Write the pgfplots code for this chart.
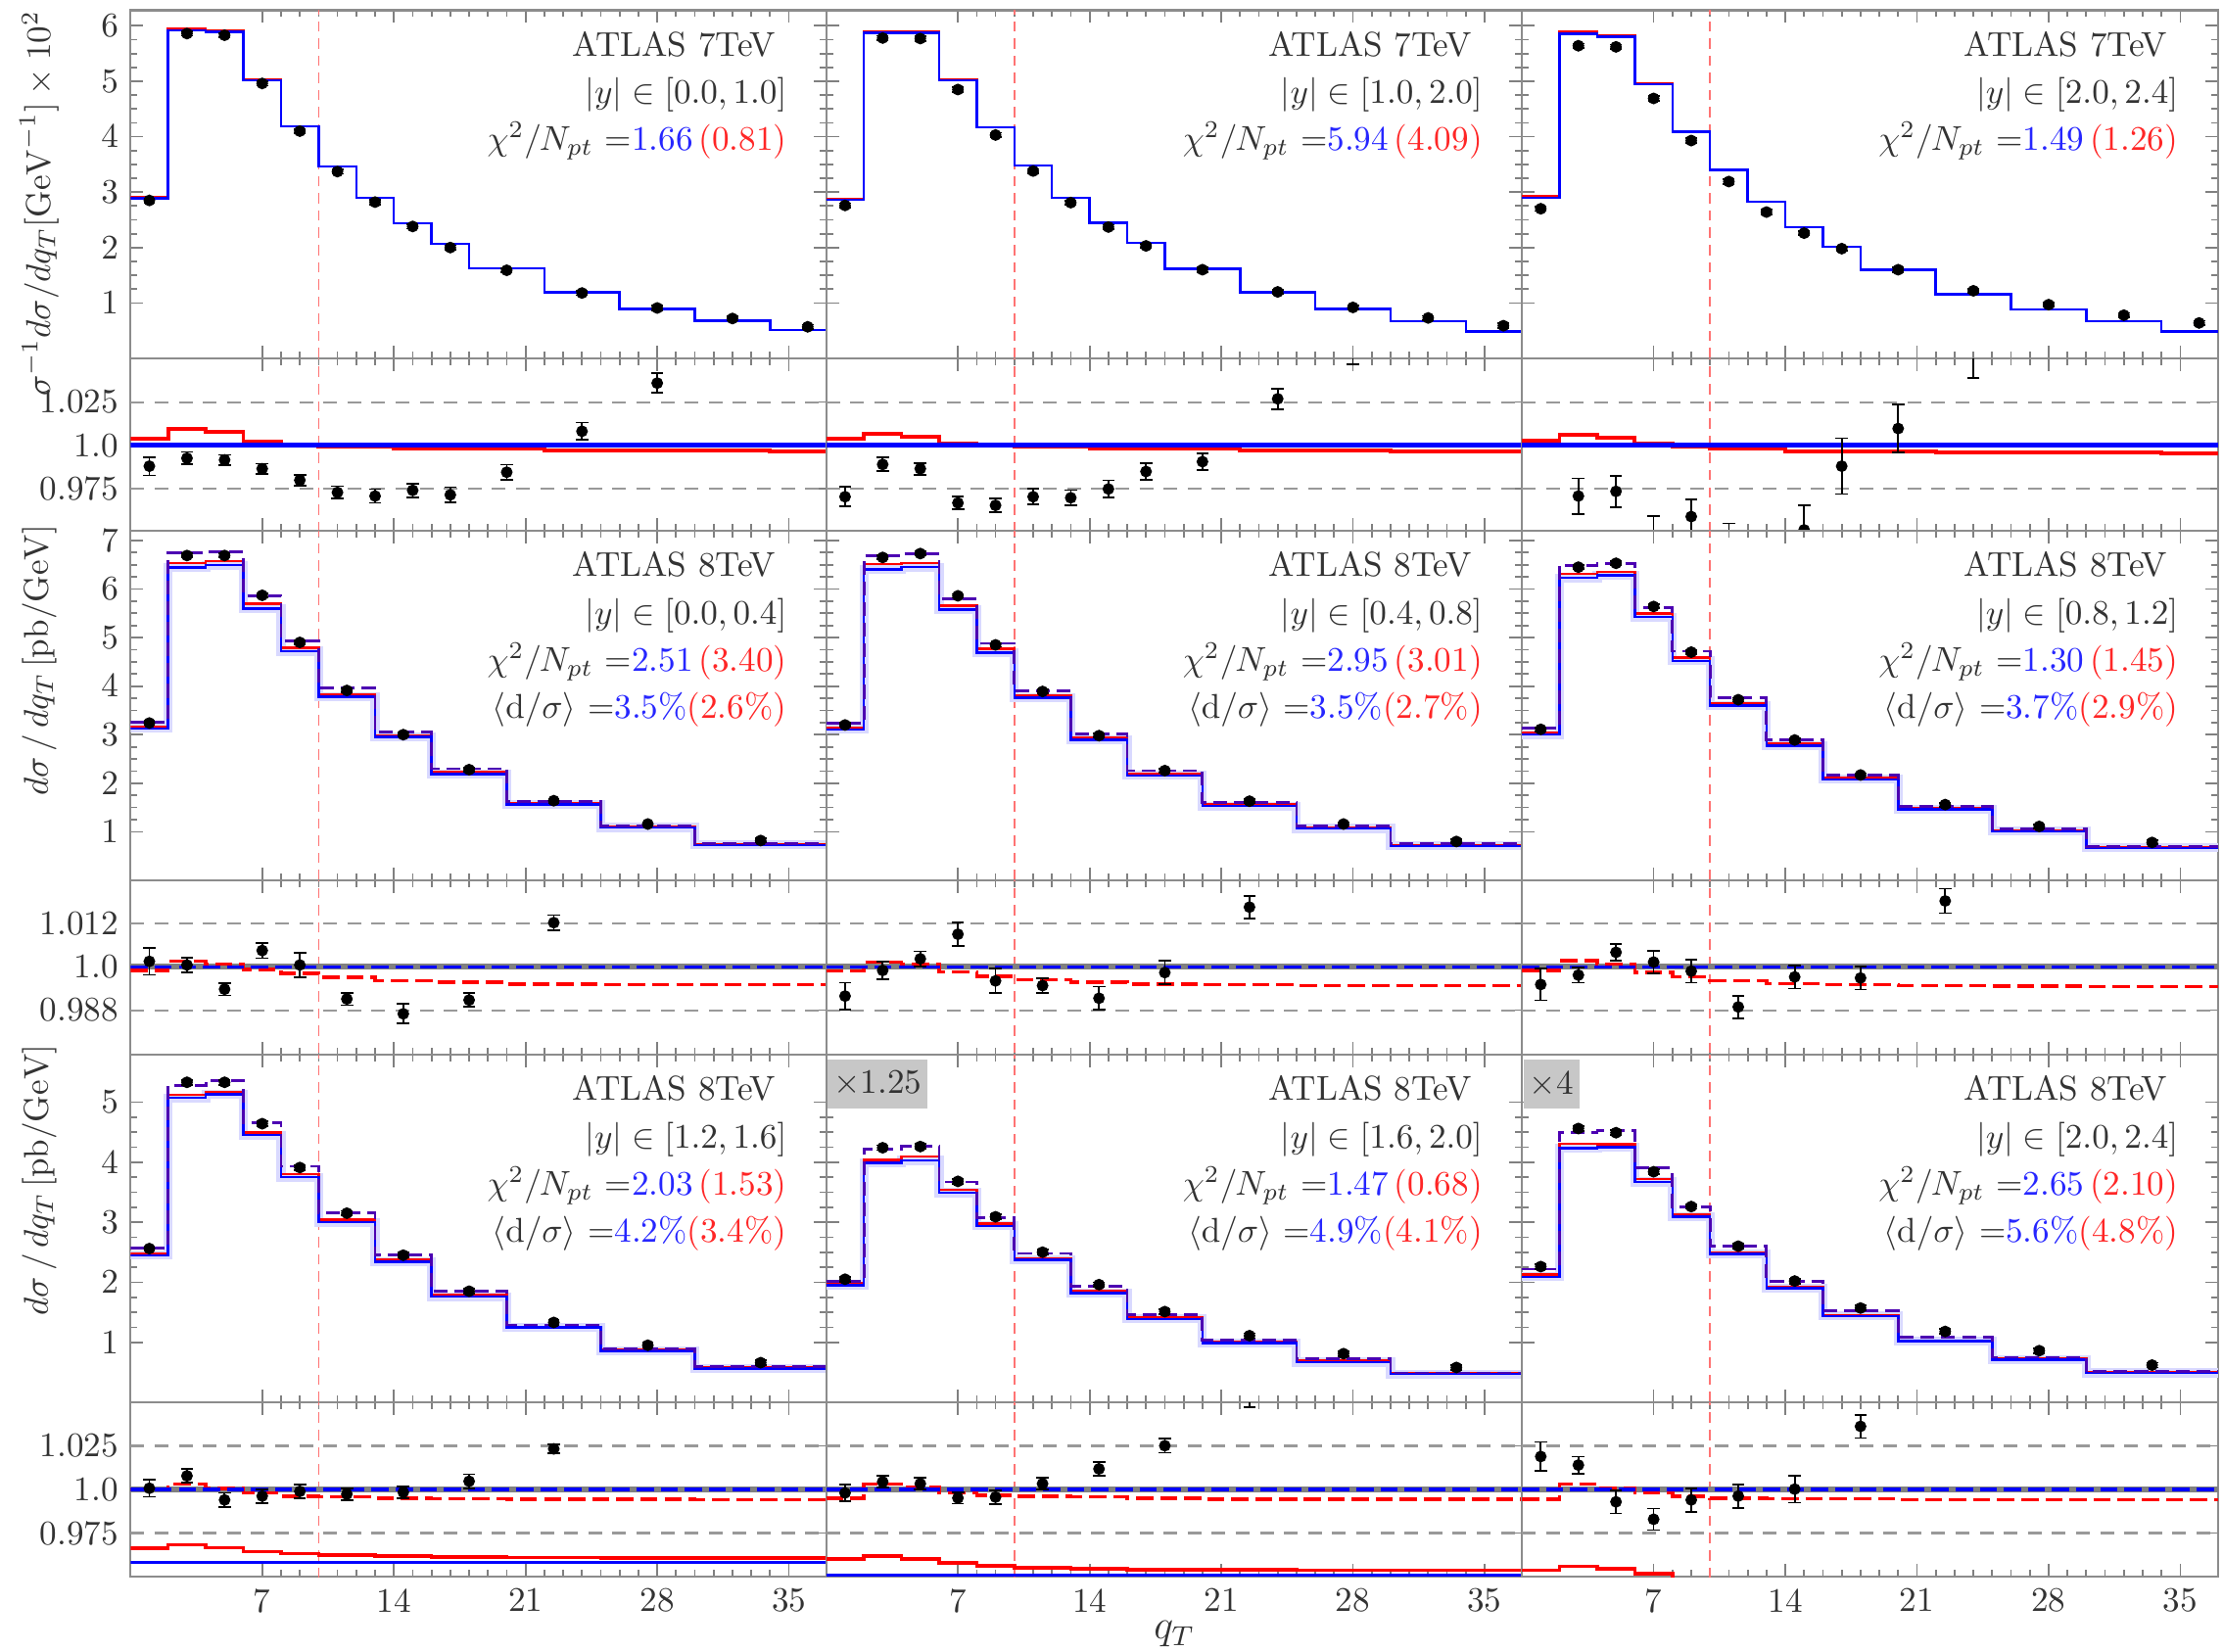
\documentclass[border=0pt]{standalone}
\usepackage{pgfplots}
\usepackage{pgfplotstable}
\pgfplotsset{compat=1.18}

% ---- 7 TeV histograms: bin edge, blue, red, red ratio
\pgfplotstableread{
q  b    r    rr
0  2.89 2.91 1.0040
2  5.92 5.95 1.0097
4  5.89 5.91 1.0080
6  5.02 5.03 1.0020
8  4.19 4.19 1.0000
10 3.46 3.46 0.9990
12 2.90 2.90 0.9990
14 2.44 2.44 0.9980
16 2.07 2.07 0.9980
18 1.63 1.63 0.9980
22 1.19 1.19 0.9970
26 0.89 0.89 0.9970
30 0.68 0.68 0.9970
34 0.51 0.51 0.9965
38 0.51 0.51 0.9965
}\hA
\pgfplotstableread{
q  b    r    rr
0  2.86 2.88 1.0036
2  5.87 5.90 1.0067
4  5.87 5.89 1.0047
6  5.02 5.03 1.0010
8  4.17 4.17 1.0000
10 3.48 3.48 0.9990
12 2.90 2.90 0.9990
14 2.45 2.45 0.9980
16 2.08 2.08 0.9980
18 1.62 1.62 0.9980
22 1.19 1.19 0.9970
26 0.89 0.89 0.9970
30 0.67 0.67 0.9966
34 0.49 0.49 0.9966
38 0.49 0.49 0.9966
}\hB
\pgfplotstableread{
q  b    r    rr
0  2.90 2.92 1.0026
2  5.86 5.89 1.0060
4  5.80 5.83 1.0043
6  4.95 4.96 1.0012
8  4.09 4.09 0.9992
10 3.40 3.40 0.9980
12 2.83 2.83 0.9980
14 2.37 2.37 0.9966
16 2.01 2.01 0.9966
18 1.60 1.60 0.9966
22 1.16 1.16 0.9960
26 0.88 0.88 0.9960
30 0.67 0.67 0.9960
34 0.49 0.49 0.9951
38 0.49 0.49 0.9951
}\hC
% ---- 7 TeV data: x, value, ratio, ratio error
\pgfplotstableread{
x  y    r      e
1  2.85 0.9879 0.0053
3  5.86 0.9925 0.0036
5  5.83 0.9915 0.0030
7  4.96 0.9864 0.0030
9  4.10 0.9798 0.0030
11 3.37 0.9727 0.0036
13 2.82 0.9706 0.0040
15 2.38 0.9739 0.0040
17 2.00 0.9713 0.0044
20 1.59 0.9844 0.0044
24 1.18 1.0081 0.0050
28 0.91 1.0360 0.0056
32 0.72 nan    0
36 0.57 nan    0
}\dA
\pgfplotstableread{
x  y    r      e
1  2.76 0.9702 0.0057
3  5.78 0.9889 0.0040
5  5.77 0.9864 0.0034
7  4.85 0.9666 0.0036
9  4.03 0.9652 0.0040
11 3.38 0.9702 0.0045
13 2.81 0.9696 0.0045
15 2.37 0.9747 0.0050
17 2.03 0.9848 0.0050
20 1.60 0.9905 0.0050
24 1.20 1.0269 0.0060
28 0.92 1.0620 0.0150
32 0.73 nan    0
36 0.59 nan    0
}\dB
\pgfplotstableread{
x  y    r      e
1  2.70 nan    0
3  5.64 0.9706 0.0103
5  5.62 0.9733 0.0091
7  4.69 0.9430 0.0160
9  3.93 0.9587 0.0101
11 3.19 0.9400 0.0147
13 2.64 nan    0
15 2.26 0.9510 0.0142
17 1.98 0.9879 0.0162
20 1.60 1.0097 0.0138
24 1.22 1.0600 0.0210
28 0.97 nan    0
32 0.78 nan    0
36 0.64 nan    0
}\dC
% ---- 8 TeV histograms: edge, blue, red, dashed, red dashed ratio, red solid ratio, blue solid ratio
\pgfplotstableread{
q  b    r    d    rd     rs     bs
0  3.13 3.17 3.26 0.9990 0.97 0.97
2  6.44 6.54 6.74 1.0015 0.97 0.97
4  6.49 6.58 6.76 1.0008 0.97 0.97
6  5.60 5.70 5.86 0.9993 0.97 0.97
8  4.72 4.79 4.93 0.9982 0.97 0.97
10 3.78 3.83 3.96 0.9971 0.97 0.97
13 2.95 2.98 3.05 0.9961 0.97 0.97
16 2.19 2.23 2.30 0.9957 0.97 0.97
20 1.56 1.58 1.63 0.9952 0.97 0.97
25 1.09 1.10 1.12 0.9950 0.97 0.97
30 0.73 0.74 0.76 0.9950 0.97 0.97
37 0.73 0.74 0.76 0.9950 0.97 0.97
}\hD
\pgfplotstableread{
q  b    r    d    rd     rs     bs
0  3.11 3.15 3.24 0.9988 0.97 0.97
2  6.40 6.51 6.69 1.0013 0.97 0.97
4  6.45 6.54 6.73 1.0008 0.97 0.97
6  5.58 5.66 5.80 0.9986 0.97 0.97
8  4.69 4.77 4.88 0.9974 0.97 0.97
10 3.76 3.80 3.91 0.9964 0.97 0.97
13 2.89 2.93 3.02 0.9957 0.97 0.97
16 2.16 2.19 2.26 0.9952 0.97 0.97
20 1.53 1.56 1.61 0.9950 0.97 0.97
25 1.07 1.09 1.12 0.9948 0.97 0.97
30 0.71 0.73 0.76 0.9948 0.97 0.97
37 0.71 0.73 0.76 0.9948 0.97 0.97
}\hE
\pgfplotstableread{
q  b    r    d    rd     rs     bs
0  3.00 3.04 3.13 0.9990 0.97 0.97
2  6.23 6.31 6.49 1.0017 0.97 0.97
4  6.28 6.35 6.53 1.0008 0.97 0.97
6  5.42 5.50 5.62 0.9984 0.97 0.97
8  4.52 4.59 4.72 0.9972 0.97 0.97
10 3.60 3.65 3.76 0.9962 0.97 0.97
13 2.77 2.81 2.89 0.9954 0.97 0.97
16 2.08 2.11 2.17 0.9950 0.97 0.97
20 1.46 1.48 1.52 0.9948 0.97 0.97
25 1.01 1.03 1.06 0.9947 0.97 0.97
30 0.67 0.68 0.70 0.9945 0.97 0.97
37 0.67 0.68 0.70 0.9945 0.97 0.97
}\hF
\pgfplotstableread{
q  b    r    d    rd     rs     bs
0  2.45 2.47 2.57 1.0000 0.9662 0.958
2  5.07 5.12 5.28 1.0030 0.9684 0.958
4  5.13 5.17 5.36 1.0007 0.9667 0.958
6  4.45 4.49 4.66 0.9980 0.9644 0.958
8  3.75 3.80 3.93 0.9962 0.9633 0.958
10 3.00 3.04 3.15 0.9958 0.9624 0.958
13 2.34 2.37 2.46 0.9951 0.9618 0.958
16 1.76 1.79 1.85 0.9947 0.9613 0.958
20 1.25 1.26 1.29 0.9944 0.9611 0.958
25 0.86 0.87 0.89 0.9944 0.9607 0.958
30 0.56 0.58 0.60 0.9940 0.9607 0.958
37 0.56 0.58 0.60 0.9940 0.9607 0.958
}\hG
\pgfplotstableread{
q  b    r    d    rd     rs     bs
0  1.95 1.98 2.01 0.9951 0.9600 0.9507
2  3.99 4.04 4.22 1.0030 0.9618 0.9507
4  4.03 4.09 4.26 1.0010 0.9602 0.9507
6  3.49 3.54 3.67 0.9980 0.9580 0.9507
8  2.94 2.98 3.08 0.9967 0.9562 0.9507
10 2.37 2.40 2.48 0.9962 0.9551 0.9507
13 1.82 1.85 1.93 0.9958 0.9544 0.9507
16 1.39 1.42 1.46 0.9951 0.9540 0.9507
20 0.99 1.01 1.04 0.9944 0.9540 0.9507
25 0.67 0.69 0.73 0.9944 0.9536 0.9507
30 0.47 0.48 0.49 0.9944 0.9536 0.9507
37 0.47 0.48 0.49 0.9944 0.9536 0.9507
}\hH
\pgfplotstableread{
q  b    r    d    rd     rs     bs
0  2.09 2.13 2.22 0.9944 0.9536 0.94
2  4.23 4.31 4.50 1.0030 0.9558 0.94
4  4.25 4.30 4.52 1.0007 0.9544 0.94
6  3.67 3.72 3.90 0.9980 0.9518 0.94
8  3.09 3.13 3.26 0.9962 0.9480 0.94
10 2.47 2.50 2.60 0.9951 0.9470 0.94
13 1.90 1.92 2.01 0.9947 0.9460 0.94
16 1.44 1.45 1.52 0.9947 0.9460 0.94
20 1.02 1.03 1.08 0.9940 0.9450 0.94
25 0.71 0.73 0.75 0.9940 0.9450 0.94
30 0.49 0.50 0.51 0.9940 0.9450 0.94
37 0.49 0.50 0.51 0.9940 0.9450 0.94
}\hI
% ---- 8 TeV data
\pgfplotstableread{
x    y    r      e
1    3.24 1.0015 0.0037
3    6.69 1.0005 0.0021
5    6.69 0.9938 0.0017
7    5.87 1.0045 0.0021
9    4.90 1.0005 0.0034
11.5 3.91 0.9911 0.0017
14.5 3.00 0.9870 0.0027
18   2.28 0.9908 0.0019
22.5 1.64 1.0122 0.0021
27.5 1.16 nan    0
33.5 0.82 nan    0
}\dD
\pgfplotstableread{
x    y    r      e
1    3.20 0.9919 0.0037
3    6.65 0.9990 0.0024
5    6.73 1.0022 0.0021
7    5.86 1.0090 0.0032
9    4.85 0.9961 0.0034
11.5 3.89 0.9948 0.0021
14.5 2.98 0.9913 0.0032
18   2.26 0.9984 0.0032
22.5 1.63 1.0165 0.0031
27.5 1.16 nan    0
33.5 0.80 nan    0
}\dE
\pgfplotstableread{
x    y    r      e
1    3.11 0.9951 0.0044
3    6.45 0.9977 0.0021
5    6.53 1.0040 0.0024
7    5.64 1.0013 0.0032
9    4.70 0.9988 0.0032
11.5 3.72 0.9889 0.0031
14.5 2.89 0.9972 0.0032
18   2.17 0.9969 0.0032
22.5 1.56 1.0182 0.0034
27.5 1.11 nan    0
33.5 0.78 nan    0
}\dF
\pgfplotstableread{
x    y    r      e
1    2.56 1.0007 0.0049
3    5.33 1.0078 0.0040
5    5.33 0.9940 0.0040
7    4.64 0.9962 0.0040
9    3.91 0.9989 0.0040
11.5 3.15 0.9973 0.0033
14.5 2.45 0.9984 0.0033
18   1.85 1.0047 0.0040
22.5 1.33 1.0233 0.0027
27.5 0.95 nan    0
33.5 0.66 nan    0
}\dG
\pgfplotstableread{
x    y    r      e
1    2.05 0.9980 0.0049
3    4.24 1.0044 0.0033
5    4.26 1.0033 0.0033
7    3.68 0.9951 0.0033
9    3.09 0.9956 0.0040
11.5 2.50 1.0033 0.0033
14.5 1.96 1.0118 0.0040
18   1.51 1.0251 0.0040
22.5 1.11 1.0580 0.0110
27.5 0.81 nan    0
33.5 0.58 nan    0
}\dH
\pgfplotstableread{
x    y    r      e
1    2.26 1.0189 0.0084
3    4.56 1.0140 0.0049
5    4.49 0.9929 0.0067
7    3.84 0.9829 0.0062
9    3.26 0.9940 0.0067
11.5 2.60 0.9962 0.0067
14.5 2.02 1.0002 0.0078
18   1.57 1.0362 0.0067
22.5 1.18 nan    0
27.5 0.86 nan    0
33.5 0.62 nan    0
}\dI

\pgfplotsset{
  base/.style={scale only axis, width=7.107cm, xmin=0, xmax=37,
    xtick={7,14,21,28,35}, minor x tick num=6, xticklabels={},
    axis line style={black!45, line width=0.6pt},
    tick style={black!50, line width=0.5pt},
    major tick length=0.13cm, minor tick length=0.07cm,
    tick label style={font=\fontsize{10}{12}\selectfont, text=black!80},
    label style={font=\fontsize{10}{12}\selectfont, text=black!80},
    clip marker paths=true, anchor=north west},
  m7/.style={base, height=3.555cm, ymin=0, ymax=6.28, ytick={1,...,6}, minor y tick num=3},
  m8a/.style={base, height=3.57cm, ymin=0, ymax=7.2, ytick={1,...,7}, minor y tick num=3},
  m8b/.style={base, height=3.55cm, ymin=0, ymax=5.79, ytick={1,...,5}, minor y tick num=3},
  r7/.style={base, height=1.76cm, ymin=0.9505, ymax=1.0503, ytick={0.975,1,1.025}, yticklabels={0.975,1.0,1.025}},
  r8a/.style={base, height=1.78cm, ymin=0.9757, ymax=1.0239, ytick={0.988,1,1.012}, yticklabels={0.988,1.0,1.012}},
  r8b/.style={base, height=1.78cm, ymin=0.95, ymax=1.05, ytick={0.975,1,1.025}, yticklabels={0.975,1.0,1.025}},
  noy/.style={yticklabels={}},
  xlab/.style={xticklabels={7,14,21,28,35}},
  ylab main/.style={ylabel style={at={(axis description cs:-0.1313,#1)}, anchor=center}},
  % plot styles
  vline/.style={red!55, line width=0.5pt, dash pattern=on 3pt off 2pt},
  gridl/.style={black!40, line width=0.6pt, dash pattern=on 4pt off 3pt},
  one/.style={black!50, line width=1.6pt},
  bsol/.style={const plot, blue, line width=0.7pt},
  rsol/.style={const plot, red, line width=0.7pt},
  bhalo/.style={const plot, blue!15, line width=2.6pt},
  dsh/.style={const plot, blue!70!red, line width=0.8pt, dash pattern=on 4pt off 2pt},
  rthick/.style={const plot, red, line width=1.1pt},
  bthick/.style={blue, line width=1.3pt},
  bdash/.style={blue, line width=1pt, dash pattern=on 5pt off 2pt},
  rdash/.style={const plot, red, line width=1pt, dash pattern=on 5pt off 2pt},
  rsolr/.style={const plot, red, line width=1pt},
  bsolr/.style={const plot, blue, line width=0.8pt},
  mdata/.style={only marks, mark=*, mark size=1.5pt, black,
    error bars/y dir=both, error bars/y fixed=0.04,
    error bars/error bar style={line width=0.5pt, black},
    error bars/error mark options={rotate=90, mark size=1.7pt, line width=0.5pt, black}},
  rdata/.style={only marks, mark=*, mark size=1.5pt, black,
    error bars/y dir=both, error bars/y explicit,
    error bars/error bar style={line width=0.5pt, black},
    error bars/error mark options={rotate=90, mark size=1.8pt, line width=0.5pt, black}},
}
\tikzset{
  anno/.style={anchor=north east, align=right, inner sep=0pt, xshift=-4mm, yshift=-2.1mm,
    font=\fontsize{10}{13.7}\selectfont, text=black!80},
  scalebox/.style={anchor=north west, fill=black!22, text=black!80, inner xsep=0.6mm,
    minimum height=5mm, yshift=-0.4mm, xshift=0.1mm, font=\fontsize{10}{12}\selectfont},
}
\colorlet{tb}{blue!85!white}
\colorlet{tr}{red!85!white}

\begin{document}
\begin{tikzpicture}
\useasboundingbox (0,0) rectangle (22.7,-16.86);

%================ row 1: ATLAS 7 TeV ================
\begin{axis}[m7, at={(1.333cm,-0.105cm)},
  ylabel={$\sigma^{-1} d\sigma/dq_T[\mathrm{GeV}^{-1}]\times 10^2$}, ylab main=0.445]
\addplot[vline] coordinates {(10,0) (10,7)};
\addplot[rsol] table[x=q,y=r]{\hA};
\addplot[bsol] table[x=q,y=b]{\hA};
\addplot[mdata] table[x=x,y=y]{\dA};
\node[anno] at (rel axis cs:1,1) {ATLAS 7TeV\hspace*{1.1mm}\\ $|y|\in[0.0,1.0]$\\ $\chi^2/N_{pt}$ =\textcolor{tb}{1.66}\,\textcolor{tr}{(0.81)}};
\end{axis}
\begin{axis}[m7, noy, at={(8.437cm,-0.105cm)}]
\addplot[vline] coordinates {(10,0) (10,7)};
\addplot[rsol] table[x=q,y=r]{\hB};
\addplot[bsol] table[x=q,y=b]{\hB};
\addplot[mdata] table[x=x,y=y]{\dB};
\node[anno] at (rel axis cs:1,1) {ATLAS 7TeV\hspace*{1.1mm}\\ $|y|\in[1.0,2.0]$\\ $\chi^2/N_{pt}$ =\textcolor{tb}{5.94}\,\textcolor{tr}{(4.09)}};
\end{axis}
\begin{axis}[m7, noy, at={(15.541cm,-0.105cm)}]
\addplot[vline] coordinates {(10,0) (10,7)};
\addplot[rsol] table[x=q,y=r]{\hC};
\addplot[bsol] table[x=q,y=b]{\hC};
\addplot[mdata] table[x=x,y=y]{\dC};
\node[anno] at (rel axis cs:1,1) {ATLAS 7TeV\hspace*{1.1mm}\\ $|y|\in[2.0,2.4]$\\ $\chi^2/N_{pt}$ =\textcolor{tb}{1.49}\,\textcolor{tr}{(1.26)}};
\end{axis}

\begin{axis}[r7, at={(1.333cm,-3.66cm)}]
\addplot[vline] coordinates {(10,0.9) (10,1.1)};
\addplot[gridl] coordinates {(0,0.975) (37,0.975)};
\addplot[gridl] coordinates {(0,1.025) (37,1.025)};
\addplot[rthick] table[x=q,y=rr]{\hA};
\addplot[bthick] coordinates {(0,1) (37,1)};
\addplot[rdata] table[x=x,y=r,y error=e]{\dA};
\end{axis}
\begin{axis}[r7, noy, at={(8.437cm,-3.66cm)}]
\addplot[vline] coordinates {(10,0.9) (10,1.1)};
\addplot[gridl] coordinates {(0,0.975) (37,0.975)};
\addplot[gridl] coordinates {(0,1.025) (37,1.025)};
\addplot[rthick] table[x=q,y=rr]{\hB};
\addplot[bthick] coordinates {(0,1) (37,1)};
\addplot[rdata] table[x=x,y=r,y error=e]{\dB};
\end{axis}
\begin{axis}[r7, noy, at={(15.541cm,-3.66cm)}]
\addplot[vline] coordinates {(10,0.9) (10,1.1)};
\addplot[gridl] coordinates {(0,0.975) (37,0.975)};
\addplot[gridl] coordinates {(0,1.025) (37,1.025)};
\addplot[rthick] table[x=q,y=rr]{\hC};
\addplot[bthick] coordinates {(0,1) (37,1)};
\addplot[rdata] table[x=x,y=r,y error=e]{\dC};
\end{axis}

%================ row 2: ATLAS 8 TeV, central ================
\begin{axis}[m8a, at={(1.333cm,-5.42cm)},
  ylabel={$d\sigma\,/\,dq_T\,[\mathrm{pb/GeV}]$}, ylab main=0.63]
\addplot[vline] coordinates {(10,0) (10,8)};
\addplot[bhalo] table[x=q,y=b]{\hD};
\addplot[rsol] table[x=q,y=r]{\hD};
\addplot[bsol] table[x=q,y=b]{\hD};
\addplot[dsh] table[x=q,y=d]{\hD};
\addplot[mdata] table[x=x,y=y]{\dD};
\node[anno] at (rel axis cs:1,1) {ATLAS 8TeV\hspace*{1.1mm}\\ $|y|\in[0.0,0.4]$\\ $\chi^2/N_{pt}$ =\textcolor{tb}{2.51}\,\textcolor{tr}{(3.40)}\\ $\langle \mathrm{d}/\sigma\rangle$ =\textcolor{tb}{3.5\%}\textcolor{tr}{(2.6\%)}};
\end{axis}
\begin{axis}[m8a, noy, at={(8.437cm,-5.42cm)}]
\addplot[vline] coordinates {(10,0) (10,8)};
\addplot[bhalo] table[x=q,y=b]{\hE};
\addplot[rsol] table[x=q,y=r]{\hE};
\addplot[bsol] table[x=q,y=b]{\hE};
\addplot[dsh] table[x=q,y=d]{\hE};
\addplot[mdata] table[x=x,y=y]{\dE};
\node[anno] at (rel axis cs:1,1) {ATLAS 8TeV\hspace*{1.1mm}\\ $|y|\in[0.4,0.8]$\\ $\chi^2/N_{pt}$ =\textcolor{tb}{2.95}\,\textcolor{tr}{(3.01)}\\ $\langle \mathrm{d}/\sigma\rangle$ =\textcolor{tb}{3.5\%}\textcolor{tr}{(2.7\%)}};
\end{axis}
\begin{axis}[m8a, noy, at={(15.541cm,-5.42cm)}]
\addplot[vline] coordinates {(10,0) (10,8)};
\addplot[bhalo] table[x=q,y=b]{\hF};
\addplot[rsol] table[x=q,y=r]{\hF};
\addplot[bsol] table[x=q,y=b]{\hF};
\addplot[dsh] table[x=q,y=d]{\hF};
\addplot[mdata] table[x=x,y=y]{\dF};
\node[anno] at (rel axis cs:1,1) {ATLAS 8TeV\hspace*{1.1mm}\\ $|y|\in[0.8,1.2]$\\ $\chi^2/N_{pt}$ =\textcolor{tb}{1.30}\,\textcolor{tr}{(1.45)}\\ $\langle \mathrm{d}/\sigma\rangle$ =\textcolor{tb}{3.7\%}\textcolor{tr}{(2.9\%)}};
\end{axis}

\begin{axis}[r8a, at={(1.333cm,-8.99cm)}]
\addplot[vline] coordinates {(10,0.9) (10,1.1)};
\addplot[gridl] coordinates {(0,0.988) (37,0.988)};
\addplot[gridl] coordinates {(0,1.012) (37,1.012)};
\addplot[one] coordinates {(0,1) (37,1)};
\addplot[rdash] table[x=q,y=rd]{\hD};
\addplot[bdash] coordinates {(0,1) (37,1)};
\addplot[rdata] table[x=x,y=r,y error=e]{\dD};
\end{axis}
\begin{axis}[r8a, noy, at={(8.437cm,-8.99cm)}]
\addplot[vline] coordinates {(10,0.9) (10,1.1)};
\addplot[gridl] coordinates {(0,0.988) (37,0.988)};
\addplot[gridl] coordinates {(0,1.012) (37,1.012)};
\addplot[one] coordinates {(0,1) (37,1)};
\addplot[rdash] table[x=q,y=rd]{\hE};
\addplot[bdash] coordinates {(0,1) (37,1)};
\addplot[rdata] table[x=x,y=r,y error=e]{\dE};
\end{axis}
\begin{axis}[r8a, noy, at={(15.541cm,-8.99cm)}]
\addplot[vline] coordinates {(10,0.9) (10,1.1)};
\addplot[gridl] coordinates {(0,0.988) (37,0.988)};
\addplot[gridl] coordinates {(0,1.012) (37,1.012)};
\addplot[one] coordinates {(0,1) (37,1)};
\addplot[rdash] table[x=q,y=rd]{\hF};
\addplot[bdash] coordinates {(0,1) (37,1)};
\addplot[rdata] table[x=x,y=r,y error=e]{\dF};
\end{axis}

%================ row 3: ATLAS 8 TeV, forward ================
\begin{axis}[m8b, at={(1.333cm,-10.77cm)},
  ylabel={$d\sigma\,/\,dq_T\,[\mathrm{pb/GeV}]$}, ylab main=0.64]
\addplot[vline] coordinates {(10,0) (10,8)};
\addplot[bhalo] table[x=q,y=b]{\hG};
\addplot[rsol] table[x=q,y=r]{\hG};
\addplot[bsol] table[x=q,y=b]{\hG};
\addplot[dsh] table[x=q,y=d]{\hG};
\addplot[mdata] table[x=x,y=y]{\dG};
\node[anno] at (rel axis cs:1,1) {ATLAS 8TeV\hspace*{1.1mm}\\ $|y|\in[1.2,1.6]$\\ $\chi^2/N_{pt}$ =\textcolor{tb}{2.03}\,\textcolor{tr}{(1.53)}\\ $\langle \mathrm{d}/\sigma\rangle$ =\textcolor{tb}{4.2\%}\textcolor{tr}{(3.4\%)}};
\end{axis}
\begin{axis}[m8b, noy, at={(8.437cm,-10.77cm)}]
\addplot[vline] coordinates {(10,0) (10,8)};
\addplot[bhalo] table[x=q,y=b]{\hH};
\addplot[rsol] table[x=q,y=r]{\hH};
\addplot[bsol] table[x=q,y=b]{\hH};
\addplot[dsh] table[x=q,y=d]{\hH};
\addplot[mdata] table[x=x,y=y]{\dH};
\node[anno] at (rel axis cs:1,1) {ATLAS 8TeV\hspace*{1.1mm}\\ $|y|\in[1.6,2.0]$\\ $\chi^2/N_{pt}$ =\textcolor{tb}{1.47}\,\textcolor{tr}{(0.68)}\\ $\langle \mathrm{d}/\sigma\rangle$ =\textcolor{tb}{4.9\%}\textcolor{tr}{(4.1\%)}};
\node[scalebox] at (rel axis cs:0,1) {$\times$1.25};
\end{axis}
\begin{axis}[m8b, noy, at={(15.541cm,-10.77cm)}]
\addplot[vline] coordinates {(10,0) (10,8)};
\addplot[bhalo] table[x=q,y=b]{\hI};
\addplot[rsol] table[x=q,y=r]{\hI};
\addplot[bsol] table[x=q,y=b]{\hI};
\addplot[dsh] table[x=q,y=d]{\hI};
\addplot[mdata] table[x=x,y=y]{\dI};
\node[anno] at (rel axis cs:1,1) {ATLAS 8TeV\hspace*{1.1mm}\\ $|y|\in[2.0,2.4]$\\ $\chi^2/N_{pt}$ =\textcolor{tb}{2.65}\,\textcolor{tr}{(2.10)}\\ $\langle \mathrm{d}/\sigma\rangle$ =\textcolor{tb}{5.6\%}\textcolor{tr}{(4.8\%)}};
\node[scalebox] at (rel axis cs:0,1) {$\times$4};
\end{axis}

\begin{axis}[r8b, xlab, at={(1.333cm,-14.32cm)}]
\addplot[vline] coordinates {(10,0.9) (10,1.1)};
\addplot[gridl] coordinates {(0,0.975) (37,0.975)};
\addplot[gridl] coordinates {(0,1.025) (37,1.025)};
\addplot[one] coordinates {(0,1) (37,1)};
\addplot[rsolr] table[x=q,y=rs]{\hG};
\addplot[bsolr] table[x=q,y=bs]{\hG};
\addplot[rdash] table[x=q,y=rd]{\hG};
\addplot[bdash] coordinates {(0,1) (37,1)};
\addplot[rdata] table[x=x,y=r,y error=e]{\dG};
\end{axis}
\begin{axis}[r8b, noy, xlab, at={(8.437cm,-14.32cm)},
  xlabel={$q_T$}, xlabel style={at={(axis description cs:0.5,-0.33)}, anchor=center, font=\fontsize{11.5}{13}\selectfont}]
\addplot[vline] coordinates {(10,0.9) (10,1.1)};
\addplot[gridl] coordinates {(0,0.975) (37,0.975)};
\addplot[gridl] coordinates {(0,1.025) (37,1.025)};
\addplot[one] coordinates {(0,1) (37,1)};
\addplot[rsolr] table[x=q,y=rs]{\hH};
\addplot[bsolr] table[x=q,y=bs]{\hH};
\addplot[rdash] table[x=q,y=rd]{\hH};
\addplot[bdash] coordinates {(0,1) (37,1)};
\addplot[rdata] table[x=x,y=r,y error=e]{\dH};
\end{axis}
\begin{axis}[r8b, noy, xlab, at={(15.541cm,-14.32cm)}]
\addplot[vline] coordinates {(10,0.9) (10,1.1)};
\addplot[gridl] coordinates {(0,0.975) (37,0.975)};
\addplot[gridl] coordinates {(0,1.025) (37,1.025)};
\addplot[one] coordinates {(0,1) (37,1)};
\addplot[rsolr] table[x=q,y=rs]{\hI};
\addplot[rdash] table[x=q,y=rd]{\hI};
\addplot[bdash] coordinates {(0,1) (37,1)};
\addplot[rdata] table[x=x,y=r,y error=e]{\dI};
\end{axis}
\end{tikzpicture}
\end{document}
